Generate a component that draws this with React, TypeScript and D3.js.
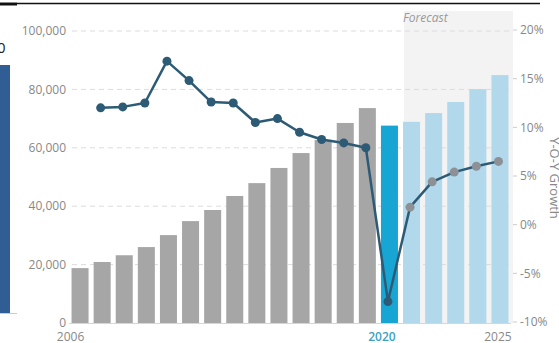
import React from "react";
import * as d3 from "d3";

const years = d3.range(2006, 2026);
const values = [18800, 20900, 23200, 26000, 30100, 34900, 38700, 43500, 47900, 53100, 58200, 62700, 68500, 73600, 67600, 68900, 71900, 75700, 80100, 84900];
const growthYears = d3.range(2007, 2026);
const growth = [12.0, 12.1, 12.5, 16.8, 14.8, 12.6, 12.5, 10.5, 10.9, 9.5, 8.75, 8.4, 7.9, -7.9, 1.8, 4.4, 5.4, 6.0, 6.5];
const leftTicks = [0, 20000, 40000, 60000, 80000, 100000];
const rightTicks = [-10, -5, 0, 5, 10, 15, 20];
const xLabels = [2006, 2020, 2025];
const forecastStart = 2021;
const covidYear = 2020;

const W = 559, H = 343;
const FONT = "'Open Sans', sans-serif";

export default function App() {
  const x = d3.scaleBand<number>().domain(years).range([69, 511]).paddingInner(0.23).paddingOuter(0.115);
  const y = d3.scaleLinear().domain([0, 100000]).range([323, 31]);
  const yr = d3.scaleLinear().domain([-10, 20]).range([322, 30]);
  const bw = x.bandwidth();
  const cx = (yv: number) => (x(yv) as number) + bw / 2 - 1.5;
  const fmt = d3.format(",");
  const line = d3.line<number>().x((_, i) => cx(growthYears[i])).y((d) => yr(d));
  const fx0 = (x(forecastStart) as number) + 1;
  const fx1 = 513;
  const labelOffset: Record<number, number> = { 2006: -1, 2020: 1, 2025: bw / 2 - 2 };

  return (
    <svg width={W} height={H} style={{ position: "absolute", left: 0, top: 0, background: "#fff" }} fontFamily={FONT}>
      {/* cropped artifacts at top-left */}
      <line x1={0} x2={17} y1={4} y2={4} stroke="#111" strokeWidth={3} />
      <line x1={17} x2={540} y1={3.5} y2={3.5} stroke="#111" strokeWidth={1.5} />
      <text x={-3} y={53} fontSize={15} fill="#222">0</text>
      <rect x={0} y={65} width={10} height={248} fill="#2f5d94" />
      <line x1={0} x2={17} y1={313.5} y2={313.5} stroke="#ccc" strokeWidth={1} />

      {/* forecast shading */}
      <rect x={fx0} y={11} width={fx1 - fx0} height={312} fill="#f3f3f3" />
      <text x={fx0 - 1} y={22} fontSize={12} fontStyle="italic" fill="#999">Forecast</text>

      {/* gridlines */}
      {leftTicks.filter((t) => t > 0).map((t) => (
        <line key={t} x1={72} x2={510} y1={y(t)} y2={y(t)} stroke="#dcdcdc" strokeDasharray="5,4" strokeWidth={1} />
      ))}

      {/* left axis labels */}
      {leftTicks.map((t) => (
        <text key={t} x={66} y={y(t)} dy="0.35em" textAnchor="end" fontSize={12} fill="#888">{fmt(t)}</text>
      ))}

      {/* bars */}
      {years.map((yv, i) => (
        <rect key={yv} x={x(yv)} y={y(values[i])} width={bw} height={y(0) - y(values[i])}
          fill={yv === covidYear ? "#17a5d3" : yv >= forecastStart ? "#b2d8ec" : "#a6a6a6"} />
      ))}

      {/* baseline */}
      <line x1={69} x2={511} y1={323.5} y2={323.5} stroke="#d6d6d6" strokeWidth={1} />

      {/* right axis */}
      {rightTicks.map((t) => (
        <g key={t}>
          <line x1={513} x2={517} y1={yr(t)} y2={yr(t)} stroke="#ccc" />
          <text x={520} y={yr(t)} dy="0.35em" fontSize={12} fill="#888">{t + "%"}</text>
        </g>
      ))}
      <text transform={`translate(550,178) rotate(90)`} textAnchor="middle" fontSize={13} fill="#888">Y-O-Y Growth</text>

      {/* x labels */}
      {xLabels.map((yv) => (
        <text key={yv} x={(x(yv) as number) + labelOffset[yv]} y={341} textAnchor="middle" fontSize={12}
          fill={yv === covidYear ? "#3aa3c4" : "#888"} fontWeight={yv === covidYear ? 600 : 400}>{yv}</text>
      ))}

      {/* growth line */}
      <path d={line(growth) || ""} fill="none" stroke="#2d5b76" strokeWidth={2.5} strokeLinejoin="round" />
      {growth.map((g, i) => (
        <circle key={i} cx={cx(growthYears[i])} cy={yr(g)} r={4.5}
          fill={growthYears[i] >= forecastStart ? "#8d9196" : "#2d5b76"} />
      ))}
    </svg>
  );
}
